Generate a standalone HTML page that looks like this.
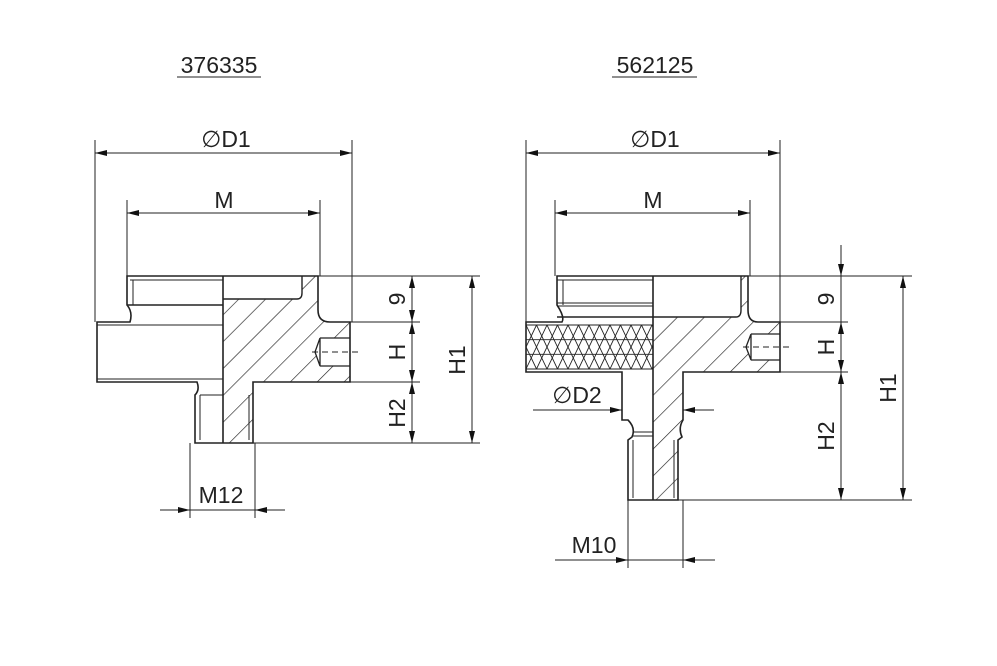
<!DOCTYPE html>
<html><head><meta charset="utf-8"><style>
html,body{margin:0;padding:0;background:#fff}
svg{display:block}
text{font-family:"Liberation Sans",sans-serif;fill:#222}
</style></head><body>
<svg width="997" height="666" viewBox="0 0 997 666" xmlns="http://www.w3.org/2000/svg">
<defs>
<pattern id="hatch" patternUnits="userSpaceOnUse" width="19" height="19" patternTransform="rotate(45)">
<line x1="0" y1="0" x2="0" y2="19" stroke="#222" stroke-width="1.3"/>
</pattern>
<pattern id="knurl" patternUnits="userSpaceOnUse" width="21" height="44" x="526" y="325">
<path d="M0 0 L21 44 M21 0 L0 44 M0 14.7 L21 14.7 M0 29.3 L21 29.3 M10.5 0 L0 22 L10.5 44 L21 22 Z" stroke="#222" stroke-width="0.9" fill="none"/>
</pattern>
<marker id="a" viewBox="0 0 12 6" refX="12" refY="3" markerWidth="12" markerHeight="6" markerUnits="userSpaceOnUse" orient="auto-start-reverse">
<path d="M0 0 L12 3 L0 6 Z" fill="#111"/>
</marker>
</defs>

<g stroke="#222" fill="none" stroke-width="1">
<!-- ===== LEFT PART ===== -->
<path d="M223 299 L302 299 L302 276 L318 276 L318 310 Q318 322 330 322 L350 322 L350 382 L253 382 L253 443 L223 443 Z" fill="url(#hatch)" stroke="none"/>
<path d="M320 338 L350 338 L350 366 L320 366 L315 352 Z" fill="#fff" stroke="none"/>
<path d="M127 276 L318 276 L318 310 Q318 322 330 322 L350 322 L350 382 L253 382 L253 443 L195 443 L195 395 Q200 390 197 382 L97 382 L97 322 L130 322 Q133 312 127 305 Z" stroke-width="1.6"/>
<line x1="223" y1="276" x2="223" y2="443" stroke-width="1.6"/>
<path d="M223 299 L297 299 Q302 299 302 293 L302 276" stroke-width="1.4"/>
<line x1="127" y1="305" x2="223" y2="305" stroke-width="1.4"/>
<line x1="133" y1="280" x2="133" y2="305"/>
<line x1="130" y1="280" x2="223" y2="280"/>
<line x1="97" y1="325" x2="223" y2="325"/>
<line x1="97" y1="379" x2="223" y2="379"/>
<line x1="200" y1="395" x2="223" y2="395"/>
<line x1="200" y1="395" x2="200" y2="440"/>
<line x1="249" y1="395" x2="249" y2="440"/>
<path d="M320 338 L350 338 M320 366 L350 366 M320 338 L320 366 L315 352 L320 338" stroke-width="1.3"/>
<line x1="312" y1="352" x2="360" y2="352" stroke-dasharray="6 4"/>
<line x1="95" y1="140" x2="95" y2="322"/>
<line x1="352" y1="140" x2="352" y2="322"/>
<line x1="127" y1="200" x2="127" y2="276"/>
<line x1="320" y1="200" x2="320" y2="276"/>
<line x1="318" y1="276" x2="480" y2="276"/>
<line x1="350" y1="322" x2="420" y2="322"/>
<line x1="350" y1="382" x2="420" y2="382"/>
<line x1="253" y1="443" x2="480" y2="443"/>
<line x1="190" y1="443" x2="190" y2="518"/>
<line x1="255" y1="443" x2="255" y2="518"/>
<line x1="95" y1="153" x2="352" y2="153" marker-start="url(#a)" marker-end="url(#a)"/>
<line x1="127" y1="213" x2="320" y2="213" marker-start="url(#a)" marker-end="url(#a)"/>
<line x1="412" y1="276" x2="412" y2="322" marker-start="url(#a)" marker-end="url(#a)"/>
<line x1="412" y1="322" x2="412" y2="382" marker-start="url(#a)" marker-end="url(#a)"/>
<line x1="412" y1="382" x2="412" y2="443" marker-start="url(#a)" marker-end="url(#a)"/>
<line x1="472" y1="276" x2="472" y2="443" marker-start="url(#a)" marker-end="url(#a)"/>
<line x1="160" y1="510" x2="190" y2="510" marker-end="url(#a)"/>
<line x1="190" y1="510" x2="255" y2="510"/>
<line x1="285" y1="510" x2="255" y2="510" marker-end="url(#a)"/>

<!-- ===== RIGHT PART ===== -->
<path d="M653 317 L741 317 L741 276 L748 276 L748 310 Q748 322 758 322 L780 322 L780 372 L683 372 L683 420 Q680 428 683 435 L678 440 L678 500 L653 500 Z" fill="url(#hatch)" stroke="none"/>
<path d="M751 334 L780 334 L780 360 L751 360 L746 347 Z" fill="#fff" stroke="none"/>
<rect x="526" y="325" width="127" height="44" fill="url(#knurl)" stroke="none"/>
<path d="M557 276 L748 276 L748 310 Q748 322 758 322 L780 322 L780 372 L683 372 L683 420 Q678 428 682 437 L678 440 L678 500 L628 500 L628 440 L632 437 Q636 428 628 420 L622 420 L622 372 L526 372 L526 322 L562 322 Q565 317 557 305 Z" stroke-width="1.6"/>
<line x1="653" y1="276" x2="653" y2="500" stroke-width="1.6"/>
<path d="M557 317 L736 317 Q741 317 741 310 L741 276" stroke-width="1.4"/>
<line x1="563" y1="280" x2="563" y2="305"/>
<line x1="557" y1="280" x2="653" y2="280"/>
<line x1="557" y1="303" x2="653" y2="303"/>
<line x1="557" y1="306" x2="653" y2="306"/>
<line x1="526" y1="325" x2="653" y2="325"/>
<line x1="526" y1="369" x2="653" y2="369"/>
<line x1="633" y1="432" x2="653" y2="432"/>
<line x1="633" y1="436" x2="653" y2="436"/>
<line x1="633" y1="440" x2="633" y2="498"/>
<line x1="674" y1="440" x2="674" y2="498"/>
<path d="M751 334 L780 334 M751 360 L780 360 M751 334 L751 360 L746 347 L751 334" stroke-width="1.3"/>
<line x1="743" y1="347" x2="790" y2="347" stroke-dasharray="6 4"/>
<line x1="526" y1="140" x2="526" y2="322"/>
<line x1="780" y1="140" x2="780" y2="322"/>
<line x1="555" y1="200" x2="555" y2="276"/>
<line x1="750" y1="200" x2="750" y2="276"/>
<line x1="748" y1="276" x2="912" y2="276"/>
<line x1="780" y1="322" x2="848" y2="322"/>
<line x1="780" y1="372" x2="848" y2="372"/>
<line x1="678" y1="500" x2="912" y2="500"/>
<line x1="628" y1="500" x2="628" y2="568"/>
<line x1="683" y1="500" x2="683" y2="568"/>
<line x1="526" y1="153" x2="780" y2="153" marker-start="url(#a)" marker-end="url(#a)"/>
<line x1="555" y1="213" x2="750" y2="213" marker-start="url(#a)" marker-end="url(#a)"/>
<line x1="841" y1="245" x2="841" y2="276" marker-end="url(#a)"/>
<line x1="841" y1="276" x2="841" y2="322"/>
<line x1="841" y1="322" x2="841" y2="372" marker-start="url(#a)" marker-end="url(#a)"/>
<line x1="841" y1="372" x2="841" y2="500" marker-start="url(#a)" marker-end="url(#a)"/>
<line x1="903" y1="276" x2="903" y2="500" marker-start="url(#a)" marker-end="url(#a)"/>
<line x1="533" y1="410" x2="622" y2="410" marker-end="url(#a)"/>
<line x1="714" y1="410" x2="683" y2="410" marker-end="url(#a)"/>
<line x1="555" y1="560" x2="628" y2="560" marker-end="url(#a)"/>
<line x1="628" y1="560" x2="683" y2="560"/>
<line x1="715" y1="560" x2="683" y2="560" marker-end="url(#a)"/>
<line x1="177" y1="77" x2="261" y2="77"/>
<line x1="612" y1="77" x2="697" y2="77"/>
</g>

<g font-size="23">
<text x="219" y="73" text-anchor="middle">376335</text>
<text x="655" y="73" text-anchor="middle">562125</text>
<text x="226" y="147" text-anchor="middle">∅D1</text>
<text x="655" y="147" text-anchor="middle">∅D1</text>
<text x="224" y="208" text-anchor="middle">M</text>
<text x="653" y="208" text-anchor="middle">M</text>
<text x="221" y="503" text-anchor="middle">M12</text>
<text x="594" y="553" text-anchor="middle">M10</text>
<text x="577" y="403" text-anchor="middle">∅D2</text>
<text transform="translate(405,299) rotate(-90)" text-anchor="middle">9</text>
<text transform="translate(405,352) rotate(-90)" text-anchor="middle">H</text>
<text transform="translate(405,413) rotate(-90)" text-anchor="middle">H2</text>
<text transform="translate(465,360) rotate(-90)" text-anchor="middle">H1</text>
<text transform="translate(834,299) rotate(-90)" text-anchor="middle">9</text>
<text transform="translate(834,347) rotate(-90)" text-anchor="middle">H</text>
<text transform="translate(834,436) rotate(-90)" text-anchor="middle">H2</text>
<text transform="translate(896,388) rotate(-90)" text-anchor="middle">H1</text>
</g>
</svg>
</body></html>
